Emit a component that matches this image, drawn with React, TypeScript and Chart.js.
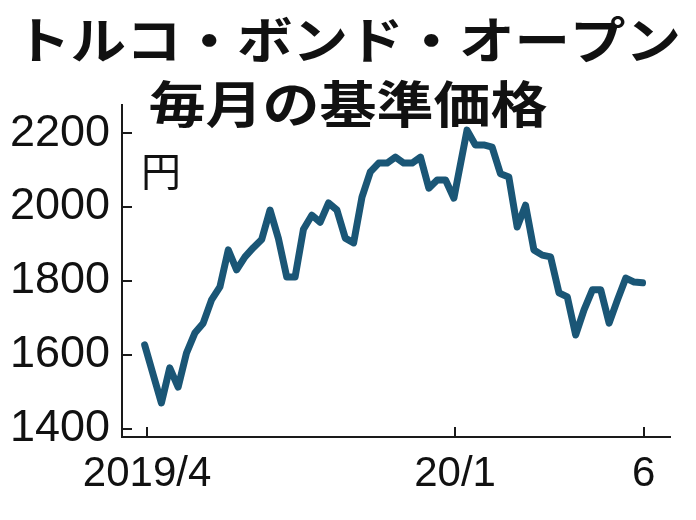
import React, { useEffect, useRef } from "react";
import { Chart, registerables } from "chart.js";

Chart.register(...registerables);

const TITLE_LINE1 = "トルコ・ボンド・オープン";
const TITLE_LINE2 = "毎月の基準価格";
const UNIT_LABEL = "円";

// weekly base-price dates
const dates: string[] = [
  "2019-04-12", "2019-04-19", "2019-04-26", "2019-05-03", "2019-05-10", "2019-05-17",
  "2019-05-24", "2019-05-31", "2019-06-07", "2019-06-14", "2019-06-21", "2019-06-28",
  "2019-07-05", "2019-07-12", "2019-07-19", "2019-07-26", "2019-08-02", "2019-08-09",
  "2019-08-16", "2019-08-23", "2019-08-30", "2019-09-06", "2019-09-13", "2019-09-20",
  "2019-09-27", "2019-10-04", "2019-10-11", "2019-10-18", "2019-10-25", "2019-11-01",
  "2019-11-08", "2019-11-15", "2019-11-22", "2019-11-29", "2019-12-06", "2019-12-13",
  "2019-12-20", "2019-12-27",
  "2020-01-07", "2020-01-14", "2020-01-21", "2020-01-28", "2020-02-04", "2020-02-11",
  "2020-02-18", "2020-02-25", "2020-03-03", "2020-03-10", "2020-03-17", "2020-03-24",
  "2020-03-31", "2020-04-07", "2020-04-14", "2020-04-21", "2020-04-28", "2020-05-05",
  "2020-05-12", "2020-05-19", "2020-05-26", "2020-06-02",
];

// base price (yen)
const prices: number[] = [
  1627, 1548, 1470, 1565, 1513, 1605, 1659, 1686, 1749, 1784,
  1884, 1830, 1865, 1890, 1912, 1992, 1915, 1811, 1811, 1940,
  1978, 1959, 2011, 1992, 1916, 1903, 2027, 2095, 2119, 2119,
  2135, 2119, 2119, 2135, 2051, 2073, 2073, 2024, 2208, 2168,
  2168, 2162, 2090, 2081, 1946, 2005, 1884, 1870, 1865, 1768,
  1757, 1654, 1722, 1776, 1776, 1686, 1749, 1808, 1797, 1795,
];

const yTicks: number[] = [1400, 1600, 1800, 2000, 2200];
const yRange: number[] = [1378, 2276];
const xTickDates: string[] = ["2019-04-14", "2019-12-28", "2020-06-03"];
const xTickLabels: string[] = ["2019/4", "20/1", "6"];
const xRange: string[] = ["2019-03-24", "2020-06-25"];

const LINE_COLOR = "#1a5676";
const AXIS_COLOR = "#1a1a1a";
const TEXT_COLOR = "#111111";
const NUM_FONT = '"Liberation Sans Narrow", "Liberation Sans", sans-serif';
const JP_FONT = '"Noto Sans CJK JP", "Noto Sans", sans-serif';

const dayNum = (s: string): number => {
  const [y, m, d] = s.split("-").map(Number);
  return Date.UTC(y, m - 1, d) / 86400000;
};

const decorPlugin = {
  id: "decor",
  afterDraw(chart: any) {
    const { ctx, chartArea, scales } = chart;
    const xs = scales.x;
    const ys = scales.y;
    ctx.save();
    // inward tick marks
    ctx.strokeStyle = AXIS_COLOR;
    ctx.lineWidth = 2;
    yTicks.forEach((v) => {
      const py = Math.round(ys.getPixelForValue(v));
      ctx.beginPath();
      ctx.moveTo(chartArea.left, py);
      ctx.lineTo(chartArea.left + 10, py);
      ctx.stroke();
    });
    xTickDates.forEach((d) => {
      const px = Math.round(xs.getPixelForValue(dayNum(d)));
      ctx.beginPath();
      ctx.moveTo(px, chartArea.bottom);
      ctx.lineTo(px, chartArea.bottom - 10);
      ctx.stroke();
    });
    // titles
    ctx.fillStyle = TEXT_COLOR;
    ctx.textAlign = "center";
    ctx.textBaseline = "middle";
    ctx.font = `bold 50px ${JP_FONT}`;
    ctx.save();
    ctx.translate(348, 40);
    ctx.scale(1.11, 1);
    ctx.fillText(TITLE_LINE1, 0, 0);
    ctx.restore();
    ctx.save();
    ctx.translate(348, 104);
    ctx.scale(1.14, 1);
    ctx.fillText(TITLE_LINE2, 0, 0);
    ctx.restore();
    // unit label
    ctx.font = `40px ${JP_FONT}`;
    ctx.textAlign = "left";
    ctx.fillText(UNIT_LABEL, chartArea.left + 19, chartArea.top + 66);
    ctx.restore();
  },
};

export default function App() {
  const canvasRef = useRef<HTMLCanvasElement | null>(null);

  useEffect(() => {
    if (!canvasRef.current) return;
    const chart = new Chart(canvasRef.current, {
      type: "line",
      data: {
        datasets: [
          {
            data: dates.map((d, i) => ({ x: dayNum(d), y: prices[i] })),
            borderColor: LINE_COLOR,
            borderWidth: 7,
            pointRadius: 0,
            tension: 0,
            borderJoinStyle: "round",
            borderCapStyle: "round",
            fill: false,
          },
        ],
      },
      options: {
        animation: false,
        responsive: true,
        maintainAspectRatio: false,
        layout: { padding: { top: 105, right: 26, left: 0, bottom: 0 } },
        plugins: { legend: { display: false }, tooltip: { enabled: false }, title: { display: false } },
        scales: {
          x: {
            type: "linear",
            min: dayNum(xRange[0]),
            max: dayNum(xRange[1]),
            afterBuildTicks: (s: any) => {
              s.ticks = xTickDates.map((d) => ({ value: dayNum(d) }));
            },
            afterFit: (s: any) => {
              s.height = 83;
            },
            grid: { display: false, drawTicks: false },
            border: { display: true, color: AXIS_COLOR, width: 2 },
            ticks: {
              autoSkip: false,
              maxRotation: 0,
              padding: 12,
              color: TEXT_COLOR,
              font: { family: NUM_FONT, size: 42 },
              callback: (_v: any, i: number) => xTickLabels[i],
            },
          },
          y: {
            type: "linear",
            min: yRange[0],
            max: yRange[1],
            afterBuildTicks: (s: any) => {
              s.ticks = yTicks.map((v) => ({ value: v }));
            },
            afterFit: (s: any) => {
              s.width = 122;
            },
            grid: { display: false, drawTicks: false },
            border: { display: true, color: AXIS_COLOR, width: 2 },
            ticks: {
              padding: 12,
              color: TEXT_COLOR,
              font: { family: NUM_FONT, size: 45 },
              callback: (v: any) => String(v),
            },
          },
        },
      },
      plugins: [decorPlugin],
    });
    return () => chart.destroy();
  }, []);

  return (
    <div style={{ position: "fixed", left: 0, top: 0, width: 696, height: 520, background: "#fff" }}>
      <canvas ref={canvasRef} />
    </div>
  );
}
